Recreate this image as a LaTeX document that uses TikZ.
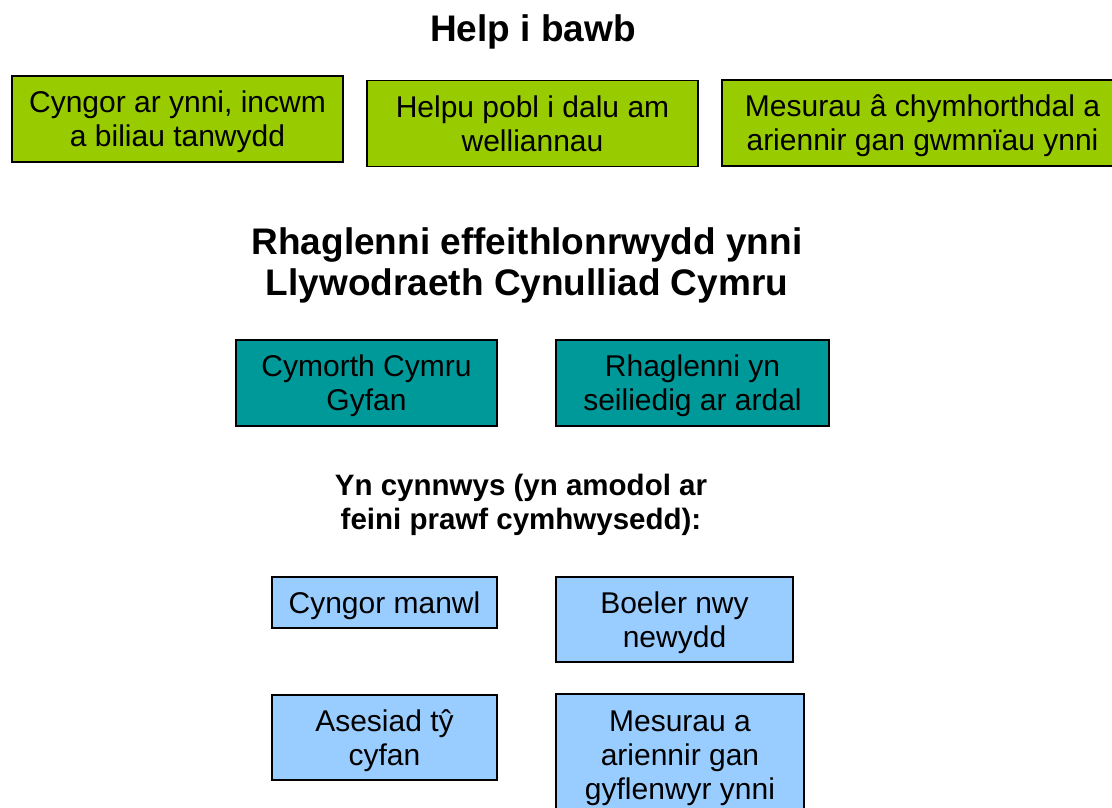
\documentclass[tikz,border=0pt]{standalone}
\usepackage{fontspec}
\setmainfont{Liberation Sans}
\definecolor{leafgreen}{HTML}{99CC00}
\definecolor{tealfill}{HTML}{009999}
\definecolor{skyfill}{HTML}{99CCFF}

\begin{document}
\begin{tikzpicture}[x = 1pt, y = -1pt, line width = 1.5pt,
                        box/.style = {draw, align = center, inner sep = 0pt, text depth = 0pt, font = \fontsize{30}{34}\selectfont},
                        greenbox/.style = {box, fill = leafgreen, minimum height = 86pt},
                        tealbox/.style = {box, fill = tealfill, minimum height = 86pt},
                        skybox/.style = {box, fill = skyfill},
                        heading/.style = {align = center, font = \fontsize{37}{41}\selectfont\bfseries}]
    \useasboundingbox (0, 0) rectangle (1112, 807);
    \clip (0, 0) rectangle (1112, 807);
    % top row
    \node [heading] (help) at (533, 32) {Help i bawb};
    \node [greenbox, minimum width = 331pt] (g1) at (177.5, 119) {Cyngor ar ynni, incwm\\a biliau tanwydd};
    \node [greenbox, minimum width = 331pt] (g2) at (532.5, 123.5) {Helpu pobl i dalu am\\welliannau};
    \node [greenbox, minimum width = 401pt] (g3) at (922.5, 123) {Mesurau â chymhorthdal a\\ariennir gan gwmnïau ynni};
    % middle row
    \node [heading] (prog) at (527, 265) {Rhaglenni effeithlonrwydd ynni\\Llywodraeth Cynulliad Cymru};
    \node [tealbox, minimum width = 261pt] (t1) at (366.5, 383) {Cymorth Cymru\\Gyfan};
    \node [tealbox, minimum width = 273pt] (t2) at (692.5, 383) {Rhaglenni yn\\seiliedig ar ardal};
    % bottom rows
    \node [heading, font = \fontsize{29.5}{34}\selectfont\bfseries] (incl) at (521, 505) {Yn cynnwys (yn amodol ar\\feini prawf cymhwysedd):};
    \node [skybox, minimum width = 225pt, minimum height = 51pt] (s1) at (384.5, 602.5) {Cyngor manwl};
    \node [skybox, minimum width = 237pt, minimum height = 85pt] (s2) at (674.5, 619.5) {Boeler nwy\\newydd};
    \node [skybox, minimum width = 225pt, minimum height = 85pt] (s3) at (384.5, 737.5) {Asesiad tŷ\\cyfan};
    \node [skybox, minimum width = 248pt, minimum height = 122pt] (s4) at (680, 755) {Mesurau a\\ariennir gan\\gyflenwyr ynni};
\end{tikzpicture}
\end{document}
